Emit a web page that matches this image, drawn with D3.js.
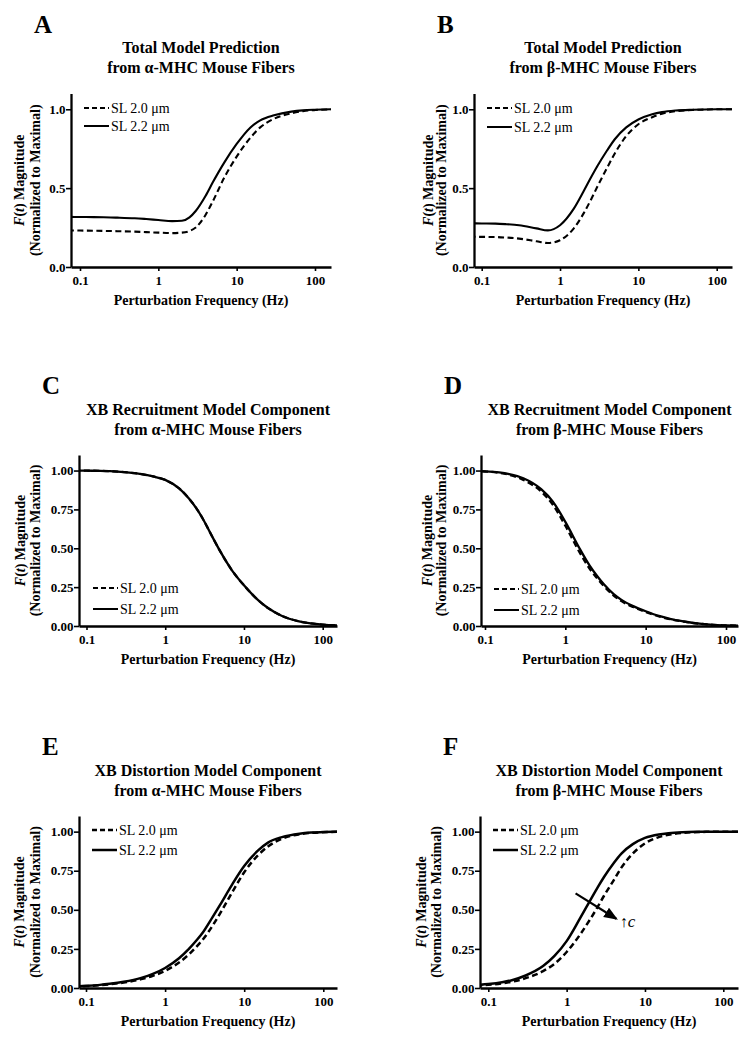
<!DOCTYPE html>
<html><head><meta charset="utf-8">
<script src="https://cdn.jsdelivr.net/npm/d3@7"></script>
<style>
html,body{margin:0;padding:0;background:#fff;}
svg{display:block;font-family:"Liberation Serif","Times New Roman",serif;}
</style></head><body>
<svg id="chart" width="750" height="1042"></svg>
<script>
// ---------- data ----------
const freq = [0.07, 0.1, 0.15, 0.2, 0.3, 0.5, 0.7, 1, 1.5, 2, 2.5, 3, 4, 5, 7, 10, 15, 20, 30, 50, 70, 100, 170];

// A: total model, alpha-MHC
const alphaTotalSL20 = [0.232,0.231,0.230,0.229,0.227,0.224,0.221,0.218,0.215,0.218,0.228,0.250,0.330,0.420,0.570,0.700,0.820,0.885,0.940,0.975,0.988,0.995,0.999];
const alphaTotalSL22 = [0.318,0.317,0.316,0.315,0.313,0.309,0.304,0.298,0.291,0.293,0.315,0.355,0.450,0.540,0.665,0.780,0.885,0.930,0.962,0.985,0.993,0.997,1.000];
// B: total model, beta-MHC
const betaTotalSL20 = [0.192,0.191,0.190,0.187,0.180,0.163,0.152,0.170,0.245,0.340,0.430,0.510,0.630,0.720,0.830,0.905,0.950,0.972,0.988,0.996,0.998,1.000,1.000];
const betaTotalSL22 = [0.277,0.276,0.275,0.272,0.265,0.245,0.232,0.265,0.370,0.480,0.570,0.640,0.740,0.810,0.885,0.935,0.968,0.982,0.992,0.997,0.999,1.000,1.000];
// C: recruitment component, alpha-MHC
const alphaRecrSL20 = [1.000,0.999,0.998,0.996,0.990,0.977,0.962,0.940,0.885,0.820,0.755,0.690,0.570,0.480,0.360,0.262,0.168,0.117,0.066,0.030,0.017,0.009,0.003];
const alphaRecrSL22 = [1.000,0.999,0.998,0.996,0.990,0.977,0.962,0.940,0.885,0.820,0.755,0.690,0.570,0.480,0.360,0.262,0.168,0.117,0.066,0.030,0.017,0.009,0.003];
// D: recruitment component, beta-MHC
const betaRecrSL20 = [0.997,0.994,0.986,0.973,0.940,0.865,0.780,0.645,0.475,0.370,0.305,0.258,0.196,0.160,0.122,0.090,0.060,0.044,0.028,0.013,0.007,0.004,0.001];
const betaRecrSL22 = [0.997,0.995,0.988,0.977,0.950,0.880,0.800,0.670,0.500,0.390,0.320,0.270,0.205,0.168,0.128,0.095,0.063,0.046,0.029,0.013,0.007,0.004,0.001];
// E: distortion component, alpha-MHC
const alphaDistSL20 = [0.009,0.012,0.018,0.024,0.035,0.057,0.078,0.110,0.163,0.215,0.265,0.310,0.400,0.480,0.610,0.740,0.850,0.905,0.955,0.983,0.992,0.996,1.000];
const alphaDistSL22 = [0.010,0.014,0.020,0.027,0.040,0.065,0.090,0.128,0.190,0.250,0.305,0.355,0.455,0.535,0.660,0.780,0.880,0.930,0.965,0.987,0.994,0.997,1.000];
// F: distortion component, beta-MHC
const betaDistSL20 = [0.015,0.020,0.030,0.040,0.063,0.108,0.155,0.230,0.345,0.440,0.520,0.590,0.690,0.770,0.860,0.925,0.965,0.980,0.992,0.998,0.999,1.000,1.000];
const betaDistSL22 = [0.018,0.025,0.037,0.050,0.080,0.140,0.205,0.300,0.450,0.560,0.645,0.710,0.800,0.860,0.920,0.960,0.982,0.990,0.996,0.999,1.000,1.000,1.000];

const legendLabels = ["SL 2.0 \u03bcm", "SL 2.2 \u03bcm"];
const xTickValues = [0.1, 1, 10, 100];
const xTickLabels = ["0.1", "1", "10", "100"];
const yTicksCoarse = [0, 0.5, 1.0];
const yTicksFine = [0, 0.25, 0.5, 0.75, 1.0];
const panelLetters = ["A", "B", "C", "D", "E", "F"];
const titleLine1 = ["Total Model Prediction", "Total Model Prediction",
  "XB Recruitment Model Component", "XB Recruitment Model Component",
  "XB Distortion Model Component", "XB Distortion Model Component"];
const titleLine2 = ["from \u03b1-MHC Mouse Fibers", "from \u03b2-MHC Mouse Fibers",
  "from \u03b1-MHC Mouse Fibers", "from \u03b2-MHC Mouse Fibers",
  "from \u03b1-MHC Mouse Fibers", "from \u03b2-MHC Mouse Fibers"];
const xAxisTitle = "Perturbation Frequency (Hz)";
const yAxisTitle2 = "(Normalized to Maximal)";
// annotation in F (data coordinates: frequency, magnitude)
const arrowFrom = [1.3, 0.605];
const arrowTo = [4.3, 0.443];
const arrowLabelAt = [4.75, 0.39];

const seriesSL20 = [alphaTotalSL20, betaTotalSL20, alphaRecrSL20, betaRecrSL20, alphaDistSL20, betaDistSL20];
const seriesSL22 = [alphaTotalSL22, betaTotalSL22, alphaRecrSL22, betaRecrSL22, alphaDistSL22, betaDistSL22];

// ---------- layout ----------
const layout = [
  {left:71,  right:331, t01:80,    t100:315,   top:93.5, bottom:267, yTicks:yTicksCoarse, fmt:".1f", legX:84,  legY:[108,126], yl:[19,35], sw:2.1},
  {left:474, right:732, t01:481.7, t100:716.7, top:93.5, bottom:267, yTicks:yTicksCoarse, fmt:".1f", legX:487, legY:[108,127], yl:[428,441], sw:2.1},
  {left:79,  right:337, t01:86.5,  t100:322.7, top:455,  bottom:626, yTicks:yTicksFine,   fmt:".2f", legX:93,  legY:[588,609], yl:[20,35], sw:2.3},
  {left:481, right:738, t01:485,   t100:726,   top:455,  bottom:626, yTicks:yTicksFine,   fmt:".2f", legX:494, legY:[589,610], yl:[427,441], sw:2.3},
  {left:79,  right:337, t01:86,    t100:323.3, top:816,  bottom:988, yTicks:yTicksFine,   fmt:".2f", legX:92,  legY:[830,850], yl:[19,35], sw:2.5},
  {left:480, right:738, t01:488.3, t100:723.3, top:816,  bottom:988, yTicks:yTicksFine,   fmt:".2f", legX:493, legY:[830,850], yl:[421,436], sw:2.5}
];

const svg = d3.select("#chart");
const defs = svg.append("defs");
defs.append("marker").attr("id","arrowhead").attr("markerUnits","userSpaceOnUse")
  .attr("markerWidth",16).attr("markerHeight",12).attr("refX",12).attr("refY",5.5)
  .attr("orient","auto")
  .append("path").attr("d","M0,0 L14,5.5 L0,11 Z").attr("fill","#000");

layout.forEach((L, i) => {
  const g = svg.append("g");
  const x0 = d3.scaleLog().domain([0.1, 100]).range([L.t01, L.t100]);
  const x = d3.scaleLog().domain([x0.invert(L.left), x0.invert(L.right)]).range([L.left, L.right]);
  const y = d3.scaleLinear().domain([0, 1.1]).range([L.bottom, L.top]);

  defs.append("clipPath").attr("id","clip"+i).append("rect")
    .attr("x", L.left).attr("y", L.top - 5).attr("width", L.right - L.left).attr("height", L.bottom - L.top + 5);

  const line = d3.line().x((d, k) => x(freq[k])).y(d => y(d)).curve(d3.curveMonotoneX);
  const cg = g.append("g").attr("clip-path", "url(#clip"+i+")");
  cg.append("path").attr("d", line(seriesSL20[i])).attr("fill","none").attr("stroke","#000")
    .attr("stroke-width", L.sw).attr("stroke-dasharray","6,3.5");
  cg.append("path").attr("d", line(seriesSL22[i])).attr("fill","none").attr("stroke","#000")
    .attr("stroke-width", L.sw);

  const xa = g.append("g").attr("transform","translate(0,"+L.bottom+")")
    .call(d3.axisBottom(x).tickValues(xTickValues).tickFormat((d,k)=>xTickLabels[k]).tickSize(4).tickPadding(5).tickSizeOuter(0));
  const ya = g.append("g").attr("transform","translate("+L.left+",0)")
    .call(d3.axisLeft(y).tickValues(L.yTicks).tickFormat(d3.format(L.fmt)).tickSize(5).tickPadding(0.5).tickSizeOuter(0));
  [xa, ya].forEach(a => {
    a.select(".domain").attr("stroke","#000").attr("stroke-width",2.3);
    a.selectAll(".tick line").attr("stroke","#000").attr("stroke-width",1.6);
    a.selectAll(".tick text").attr("fill","#000").attr("font-family","Liberation Serif").attr("font-size",13).attr("font-weight","bold");
  });

  g.append("text").attr("x", L.left - 37).attr("y", L.top - 61).attr("font-size",25).attr("font-weight","bold").text(panelLetters[i]);
  const cx = (L.left + L.right) / 2;
  g.append("text").attr("x", cx).attr("y", L.top - 40.5).attr("text-anchor","middle").attr("font-size",16).attr("font-weight","bold").text(titleLine1[i]);
  g.append("text").attr("x", cx).attr("y", L.top - 20.5).attr("text-anchor","middle").attr("font-size",16).attr("font-weight","bold").text(titleLine2[i]);
  g.append("text").attr("x", cx).attr("y", L.bottom + 37.5).attr("text-anchor","middle").attr("font-size",14).attr("font-weight","bold").text(xAxisTitle);
  const yc = (L.top + L.bottom) / 2;
  const t1 = g.append("text").attr("transform","translate("+L.yl[0]+","+yc+") rotate(-90)").attr("dy","0.33em")
    .attr("text-anchor","middle").attr("font-size",14).attr("font-weight","bold");
  t1.append("tspan").attr("font-style","italic").text("F");
  t1.append("tspan").text("(");
  t1.append("tspan").attr("font-style","italic").text("t");
  t1.append("tspan").text(") Magnitude");
  g.append("text").attr("transform","translate("+L.yl[1]+","+yc+") rotate(-90)").attr("dy","0.33em")
    .attr("text-anchor","middle").attr("font-size",14).attr("font-weight","bold").text(yAxisTitle2);

  [0,1].forEach(k => {
    g.append("line").attr("x1", L.legX).attr("x2", L.legX + 25).attr("y1", L.legY[k]).attr("y2", L.legY[k])
      .attr("stroke","#000").attr("stroke-width", i >= 4 ? 2.5 : 2)
      .attr("stroke-dasharray", k === 0 ? "5,3" : null);
    g.append("text").attr("x", L.legX + 27).attr("y", L.legY[k]).attr("dy","0.35em")
      .attr("font-size",14).text(legendLabels[k]);
  });

  if (i === 5) {
    g.append("line").attr("x1", x(arrowFrom[0])).attr("y1", y(arrowFrom[1]))
      .attr("x2", x(arrowTo[0])).attr("y2", y(arrowTo[1]))
      .attr("stroke","#000").attr("stroke-width",2.2).attr("marker-end","url(#arrowhead)");
    const at = g.append("text").attr("x", x(arrowLabelAt[0])).attr("y", y(arrowLabelAt[1])).attr("font-size",16);
    at.append("tspan").text("\u2191");
    at.append("tspan").attr("font-style","italic").attr("font-size",17).text("c");
  }
});
</script>
</body></html>
